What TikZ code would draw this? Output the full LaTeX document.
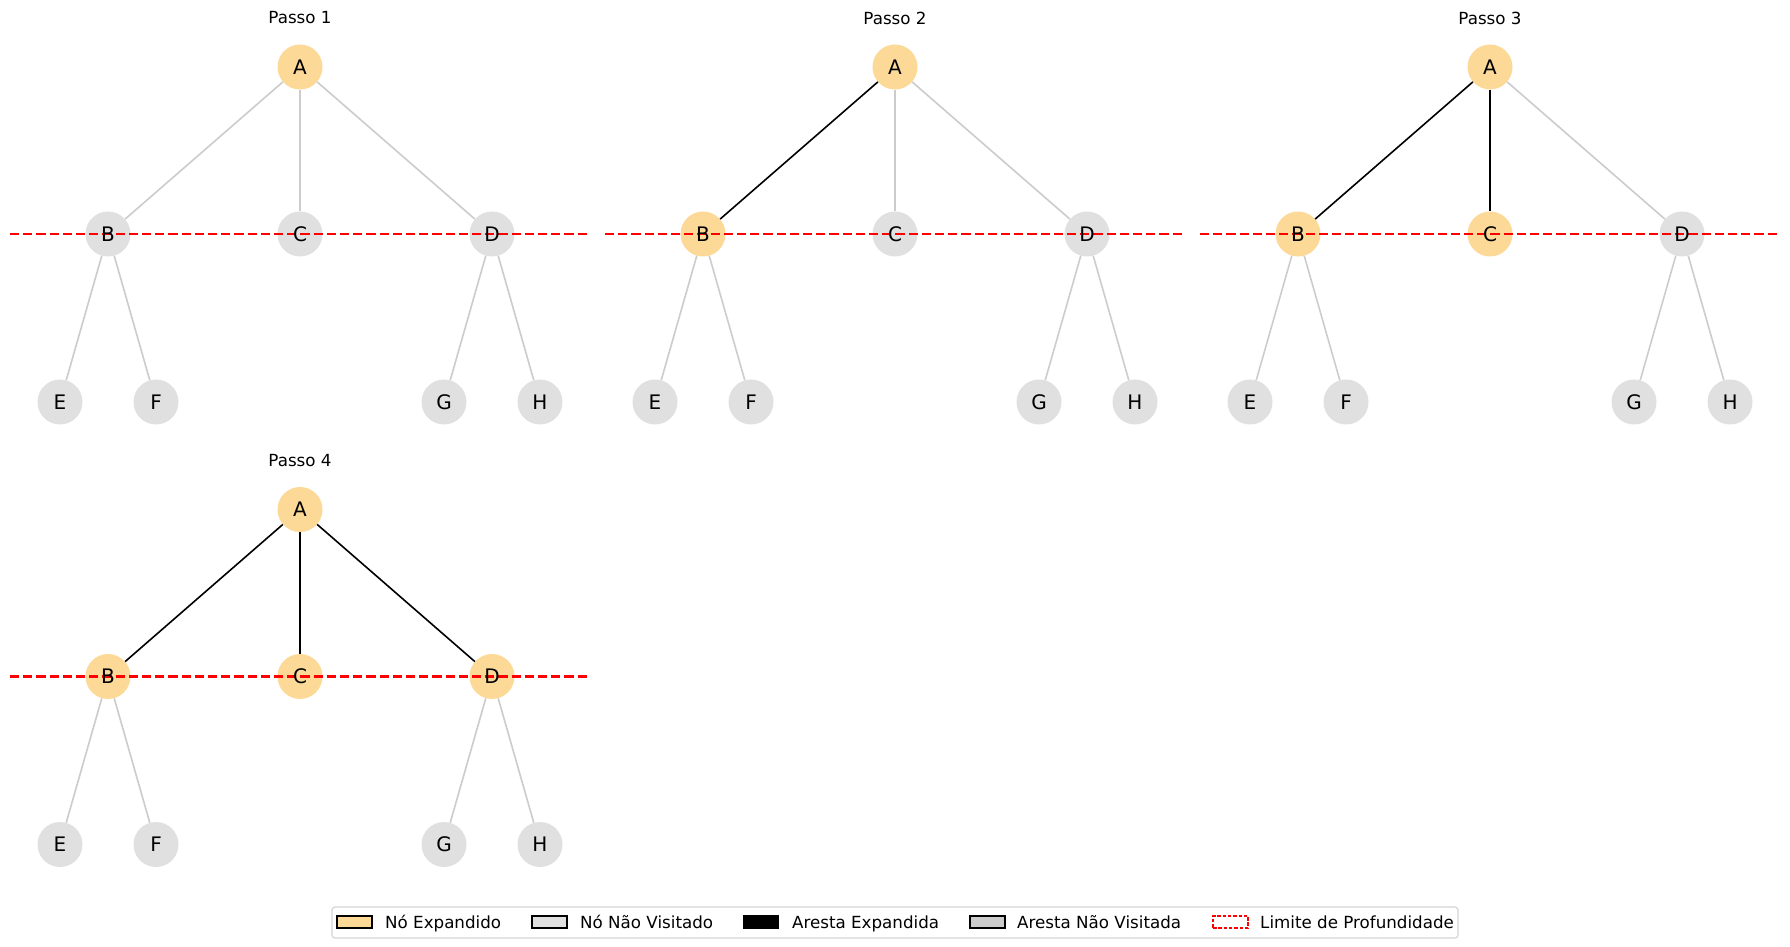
\documentclass[tikz,border=0pt]{standalone}
\usepackage{fontspec}
\setmainfont{DejaVu Sans}
\definecolor{expcol}{HTML}{FDD998}
\definecolor{unvcol}{HTML}{E0E0E0}
\definecolor{edgegray}{HTML}{CCCCCC}
\definecolor{framegray}{HTML}{D4D4D4}
\tikzset{
  tnode/.style={circle, minimum size=45pt, inner sep=0pt, draw=none},
  expnode/.style={tnode, fill=expcol},
  unvnode/.style={tnode, fill=unvcol},
  expedge/.style={black, line width=1.6pt},
  unvedge/.style={edgegray, line width=1.6pt},
  depthline/.style={red, line width=2.5pt, dash pattern=on 9.2pt off 4pt},
  lbl/.style={font=\fontsize{20}{20}\selectfont, inner sep=0pt},
  steptitle/.style={font=\fontsize{16.7}{16.7}\selectfont, inner sep=0pt},
  legtext/.style={font=\fontsize{16.7}{16.7}\selectfont, anchor=base west, inner sep=0pt},
  legpatch/.style={draw=black, line width=1.2pt},
}
\newcommand\treestep[6]{%
\begin{scope}[shift={(#2,-#3)}]
  \node[steptitle] (p#1title) at (300,928) {Passo #1};
  \node[expnode] (p#1A) at (300,879) {};
  \node[#4node] (p#1B) at (108,712) {};
  \node[#5node] (p#1C) at (300,712) {};
  \node[#6node] (p#1D) at (492,712) {};
  \node[unvnode] (p#1E) at (60,544) {};
  \node[unvnode] (p#1F) at (156,544) {};
  \node[unvnode] (p#1G) at (444,544) {};
  \node[unvnode] (p#1H) at (540,544) {};
  \draw[#4edge] (p#1A) -- (p#1B);
  \draw[#5edge] (p#1A) -- (p#1C);
  \draw[#6edge] (p#1A) -- (p#1D);
  \draw[unvedge] (p#1B) -- (p#1E);
  \draw[unvedge] (p#1B) -- (p#1F);
  \draw[unvedge] (p#1D) -- (p#1G);
  \draw[unvedge] (p#1D) -- (p#1H);
  \coordinate (p#1L) at (10,712);
  \coordinate (p#1R) at (590,712);
  \draw[depthline] (p#1L) -- (p#1R);
  \foreach \n in {A,B,C,D,E,F,G,H} {\node[lbl] (p#1\n-lbl) at (p#1\n) {\n};}
\end{scope}}
\begin{document}
\begin{tikzpicture}[x=1pt, y=1pt]
  \useasboundingbox (0,0) rectangle (1790,946);
  \fill[white] (0,0) rectangle (1790,946);
  \treestep{1}{0}{0}{unv}{unv}{unv}
  \treestep{2}{595}{0}{exp}{unv}{unv}
  \treestep{3}{1190}{0}{exp}{exp}{unv}
  \treestep{4}{0}{442.5}{exp}{exp}{exp}
  % legend
  \node[draw=framegray, line width=1.2pt, rounded corners=3pt, fill=white, minimum width=1126pt, minimum height=31pt, inner sep=0pt] (legend) at (895,23.5) {};
  \node[legpatch, fill=expcol, minimum width=35pt, minimum height=12pt, inner sep=0pt] (lp1) at (354.5,24) {};
  \node[legtext] (lt1) at (385,18) {Nó Expandido};
  \node[legpatch, fill=unvcol, minimum width=35pt, minimum height=12pt, inner sep=0pt] (lp2) at (549.5,24) {};
  \node[legtext] (lt2) at (580,18) {Nó Não Visitado};
  \node[legpatch, fill=black, minimum width=35pt, minimum height=12pt, inner sep=0pt] (lp3) at (761,24) {};
  \node[legtext] (lt3) at (792,18) {Aresta Expandida};
  \node[legpatch, fill=edgegray, minimum width=35pt, minimum height=12pt, inner sep=0pt] (lp4) at (987.5,24) {};
  \node[legtext] (lt4) at (1017,18) {Aresta Não Visitada};
  \node[draw=red, line width=1.2pt, dash pattern=on 3.5pt off 1.8pt, fill=white, minimum width=35pt, minimum height=12pt, inner sep=0pt] (lp5) at (1230.5,24) {};
  \node[legtext] (lt5) at (1260,18) {Limite de Profundidade};
\end{tikzpicture}
\end{document}
